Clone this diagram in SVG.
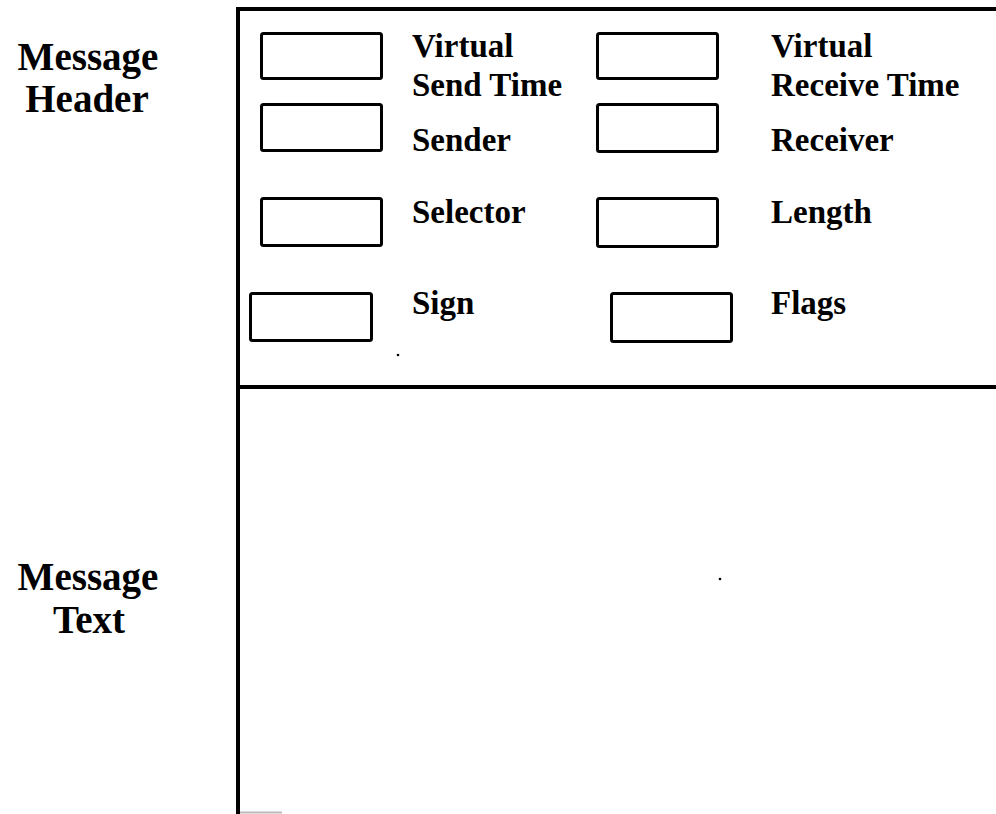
<svg xmlns="http://www.w3.org/2000/svg" width="996" height="814" viewBox="0 0 996 814">
  <style>
    .frame { stroke: #000; stroke-width: 4; fill: none; stroke-linecap: square; }
    .field { fill: #fff; stroke: #000; stroke-width: 3; }
    .lbl { font-family: "Liberation Serif", "Times New Roman", serif; font-weight: bold; font-size: 33px; fill: #000; }
    .sec { font-family: "Liberation Serif", "Times New Roman", serif; font-weight: bold; font-size: 39px; fill: #000; text-anchor: middle; }
  </style>
  <rect width="996" height="814" fill="#fff"/>

  <!-- message frame: outer edges and header/text divider -->
  <g id="frame">
    <line class="frame" x1="238" y1="9" x2="996" y2="9"/>
    <line class="frame" x1="238" y1="9" x2="238" y2="812"/>
    <line class="frame" x1="238" y1="387" x2="996" y2="387"/>
    <line x1="240" y1="812.5" x2="282" y2="812.5" stroke="#bbb" stroke-width="2"/>
  </g>

  <!-- section captions -->
  <g id="section-header">
    <text class="sec" x="88" y="70">Message</text>
    <text class="sec" x="87" y="112">Header</text>
  </g>
  <g id="section-text">
    <text class="sec" x="88" y="590">Message</text>
    <text class="sec" x="89" y="633">Text</text>
  </g>

  <!-- header fields -->
  <g id="field-send-time">
    <rect class="field" x="261.5" y="33.5" width="120" height="45" rx="2"/>
    <text class="lbl" x="412" y="57">Virtual</text>
    <text class="lbl" x="412" y="96">Send Time</text>
  </g>
  <g id="field-receive-time">
    <rect class="field" x="597.5" y="33.5" width="120" height="45" rx="2"/>
    <text class="lbl" x="771" y="57">Virtual</text>
    <text class="lbl" x="771" y="96">Receive Time</text>
  </g>
  <g id="field-sender">
    <rect class="field" x="261.5" y="104.5" width="120" height="46" rx="2"/>
    <text class="lbl" x="412" y="151">Sender</text>
  </g>
  <g id="field-receiver">
    <rect class="field" x="597.5" y="104.5" width="120" height="47" rx="2"/>
    <text class="lbl" x="771" y="151">Receiver</text>
  </g>
  <g id="field-selector">
    <rect class="field" x="261.5" y="198.5" width="120" height="47" rx="2"/>
    <text class="lbl" x="412" y="223">Selector</text>
  </g>
  <g id="field-length">
    <rect class="field" x="597.5" y="198.5" width="120" height="48" rx="2"/>
    <text class="lbl" x="771" y="223">Length</text>
  </g>
  <g id="field-sign">
    <rect class="field" x="250.5" y="293.5" width="121" height="47" rx="2"/>
    <text class="lbl" x="412" y="314">Sign</text>
  </g>
  <g id="field-flags">
    <rect class="field" x="611.5" y="293.5" width="120" height="48" rx="2"/>
    <text class="lbl" x="771" y="314">Flags</text>
  </g>

  <!-- stray specks -->
  <circle cx="398" cy="355" r="1.3" fill="#000"/>
  <circle cx="720" cy="579" r="1.3" fill="#000"/>
</svg>
